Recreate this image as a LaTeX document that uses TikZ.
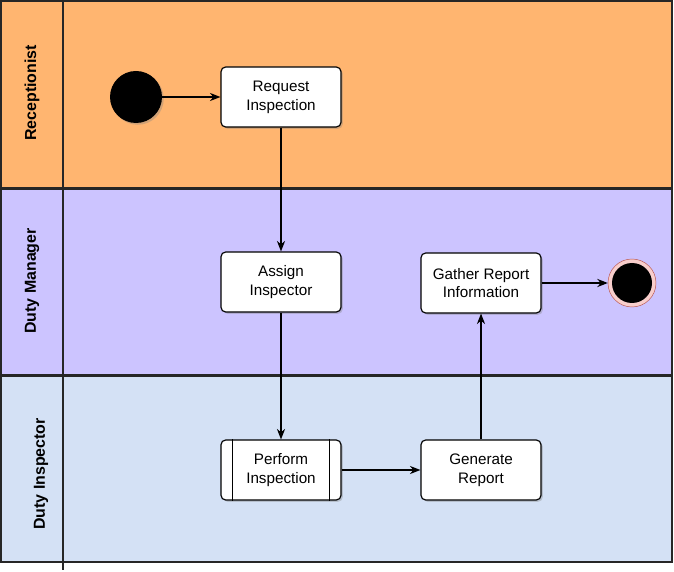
\documentclass[tikz,border=0pt]{standalone}
\usepackage{fontspec}
\setmainfont{Liberation Sans}
\usetikzlibrary{shadows,arrows.meta}

\definecolor{recep}{HTML}{FFB570}
\definecolor{manager}{HTML}{CCC4FF}
\definecolor{inspector}{HTML}{D4E1F5}
\definecolor{endring}{HTML}{B85450}
\definecolor{endfill}{HTML}{F8CECC}

\begin{document}
\begin{tikzpicture}[x=0.03cm,y=-0.03cm,
  lane/.style={draw=black!85, line width=1pt},
  act/.style={draw, line width=1pt, rounded corners=4pt, fill=white, align=center,
    minimum width=3.6cm, minimum height=1.8cm, font=\fontsize{13}{16}\selectfont,
    drop shadow={opacity=0.35, shadow xshift=1.5pt, shadow yshift=-1.5pt}},
  flow/.style={-{Stealth[length=9pt,width=7pt]}, line width=1pt}]
\useasboundingbox (0,0) rectangle (674,572);

% swimlanes
\filldraw[fill=recep, lane] (1,1) rectangle (672,188);
\filldraw[fill=manager, lane] (1,189) rectangle (672,375);
\filldraw[fill=inspector, lane] (1,376) rectangle (672,562);
\draw[lane] (63,1) -- (63,570);
\node[rotate=90, font=\fontsize{13.6}{15}\bfseries] (lrecep) at (32,93) {Receptionist};
\node[rotate=90, font=\fontsize{13.6}{15}\bfseries] (lmanager) at (32,281) {Duty Manager};
\node[rotate=90, font=\fontsize{13.6}{15}\bfseries] (linspector) at (41,474) {Duty Inspector};

% activities
\node[circle, fill=black, minimum size=1.56cm,
  drop shadow={opacity=0.35, shadow xshift=1.5pt, shadow yshift=-1.5pt}] (start) at (136,97) {};
\node[act] (request) at (281,97) {Request\\Inspection};
\node[act] (assign) at (281,282) {Assign\\Inspector};
\node[act] (gather) at (481,283) {Gather Report\\Information};
\node[act] (perform) at (281,470) {Perform\\Inspection};
\draw[line width=1pt] ([xshift=0.36cm]perform.north west) -- ([xshift=0.36cm]perform.south west);
\draw[line width=1pt] ([xshift=-0.36cm]perform.north east) -- ([xshift=-0.36cm]perform.south east);
\node[act] (generate) at (481,470) {Generate\\Report};
\node[circle, draw=endring, fill=endfill, minimum size=1.44cm] (end) at (632,283) {};
\fill[black] (end.center) circle (20);

% flows
\draw[flow] (start) -- (request);
\draw[flow] (request) -- (assign);
\draw[flow] (assign) -- (perform);
\draw[flow] (perform) -- (generate);
\draw[flow] (generate) -- (gather);
\draw[flow] (gather) -- (end);
\end{tikzpicture}
\end{document}
